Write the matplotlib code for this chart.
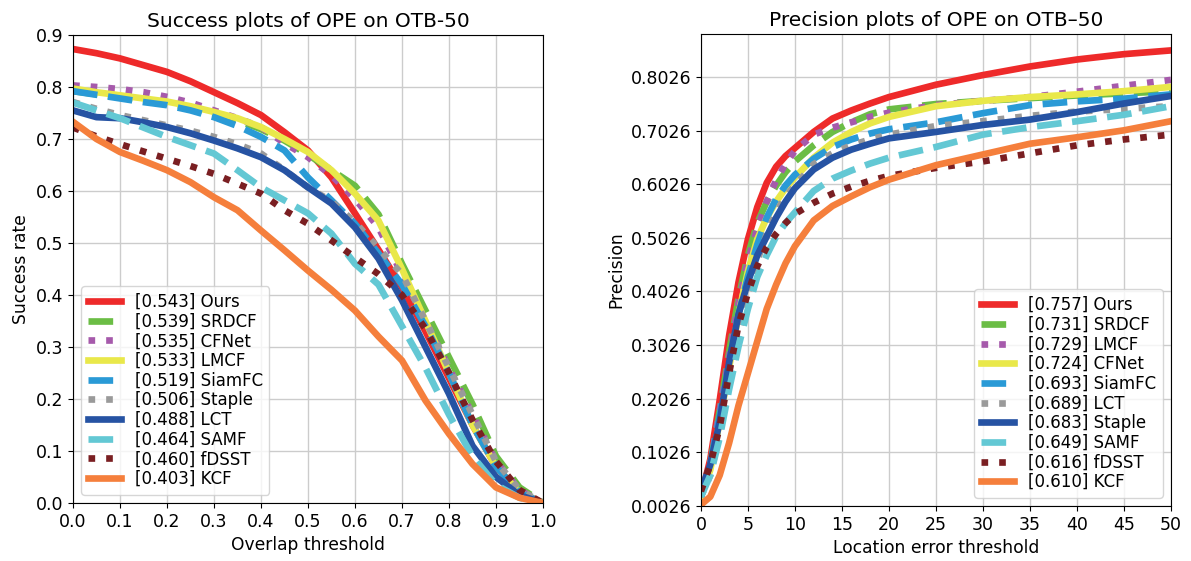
import numpy as np
import matplotlib
matplotlib.use('Agg')
import matplotlib.pyplot as plt

# Umbrales
overlap = np.arange(0, 1.0001, 0.05)
loc_err = [0, 1, 2, 3, 4, 5, 6, 7, 8, 9, 10, 12, 14, 16, 18, 20, 25, 30, 35, 40, 45, 50]

# Success plot (OTB-50)
succ_names = ['Ours', 'SRDCF', 'CFNet', 'LMCF', 'SiamFC', 'Staple', 'LCT', 'SAMF', 'fDSST', 'KCF']
succ_auc = [0.543, 0.539, 0.535, 0.533, 0.519, 0.506, 0.488, 0.464, 0.460, 0.403]
succ_ours   = [0.873, 0.865, 0.855, 0.842, 0.829, 0.811, 0.790, 0.769, 0.746, 0.713, 0.678, 0.626, 0.557, 0.487, 0.415, 0.33, 0.24, 0.15, 0.07, 0.02, 0.0]
succ_srdcf  = [0.792, 0.786, 0.781, 0.776, 0.769, 0.760, 0.749, 0.736, 0.719, 0.697, 0.670, 0.640, 0.610, 0.555, 0.46, 0.37, 0.28, 0.19, 0.09, 0.03, 0.0]
succ_cfnet  = [0.803, 0.800, 0.796, 0.790, 0.781, 0.770, 0.755, 0.740, 0.723, 0.692, 0.665, 0.630, 0.585, 0.530, 0.44, 0.35, 0.26, 0.17, 0.08, 0.025, 0.0]
succ_lmcf   = [0.797, 0.790, 0.784, 0.778, 0.772, 0.763, 0.752, 0.740, 0.723, 0.700, 0.675, 0.640, 0.595, 0.543, 0.45, 0.35, 0.25, 0.15, 0.07, 0.02, 0.0]
succ_siamfc = [0.792, 0.785, 0.778, 0.771, 0.765, 0.755, 0.742, 0.725, 0.704, 0.678, 0.626, 0.582, 0.537, 0.480, 0.42, 0.34, 0.25, 0.15, 0.07, 0.02, 0.0]
succ_staple = [0.771, 0.758, 0.746, 0.736, 0.726, 0.716, 0.704, 0.690, 0.672, 0.640, 0.607, 0.580, 0.540, 0.490, 0.44, 0.35, 0.26, 0.17, 0.08, 0.025, 0.0]
succ_lct    = [0.755, 0.742, 0.740, 0.732, 0.723, 0.711, 0.697, 0.682, 0.665, 0.640, 0.607, 0.576, 0.530, 0.470, 0.39, 0.30, 0.21, 0.11, 0.05, 0.015, 0.0]
succ_samf   = [0.770, 0.755, 0.740, 0.722, 0.704, 0.688, 0.672, 0.640, 0.607, 0.582, 0.557, 0.518, 0.460, 0.420, 0.34, 0.26, 0.17, 0.09, 0.035, 0.01, 0.0]
succ_fdsst  = [0.722, 0.705, 0.690, 0.676, 0.662, 0.648, 0.633, 0.614, 0.595, 0.563, 0.537, 0.505, 0.472, 0.440, 0.40, 0.335, 0.25, 0.16, 0.08, 0.025, 0.0]
succ_kcf    = [0.733, 0.700, 0.675, 0.658, 0.640, 0.617, 0.588, 0.563, 0.524, 0.486, 0.447, 0.410, 0.370, 0.320, 0.274, 0.197, 0.133, 0.075, 0.03, 0.01, 0.0]

# Precision plot (OTB-50)
prec_names = ['Ours', 'SRDCF', 'LMCF', 'CFNet', 'SiamFC', 'LCT', 'Staple', 'SAMF', 'fDSST', 'KCF']
prec_auc = [0.757, 0.731, 0.729, 0.724, 0.693, 0.689, 0.683, 0.649, 0.616, 0.610]
prec_ours   = [0.02, 0.09, 0.20, 0.32, 0.42, 0.50, 0.56, 0.605, 0.635, 0.655, 0.67, 0.70, 0.725, 0.740, 0.753, 0.765, 0.788, 0.806, 0.822, 0.835, 0.845, 0.852]
prec_srdcf  = [0.02, 0.08, 0.18, 0.29, 0.39, 0.47, 0.53, 0.57, 0.60, 0.625, 0.645, 0.675, 0.70, 0.718, 0.733, 0.742, 0.752, 0.758, 0.763, 0.768, 0.772, 0.776]
prec_lmcf   = [0.02, 0.08, 0.18, 0.28, 0.38, 0.46, 0.52, 0.57, 0.61, 0.64, 0.665, 0.695, 0.708, 0.718, 0.728, 0.736, 0.75, 0.758, 0.765, 0.775, 0.786, 0.797]
prec_cfnet  = [0.02, 0.07, 0.16, 0.26, 0.36, 0.44, 0.50, 0.54, 0.57, 0.595, 0.615, 0.652, 0.68, 0.70, 0.716, 0.728, 0.748, 0.758, 0.765, 0.77, 0.776, 0.784]
prec_siamfc = [0.02, 0.08, 0.17, 0.27, 0.36, 0.43, 0.49, 0.54, 0.575, 0.60, 0.62, 0.65, 0.672, 0.686, 0.697, 0.705, 0.718, 0.735, 0.75, 0.757, 0.762, 0.77]
prec_lct    = [0.02, 0.06, 0.14, 0.23, 0.32, 0.40, 0.46, 0.51, 0.55, 0.58, 0.60, 0.64, 0.66, 0.675, 0.686, 0.695, 0.711, 0.72, 0.73, 0.738, 0.743, 0.748]
prec_staple = [0.03, 0.08, 0.16, 0.27, 0.36, 0.42, 0.47, 0.505, 0.54, 0.57, 0.595, 0.63, 0.652, 0.667, 0.678, 0.688, 0.70, 0.713, 0.723, 0.737, 0.753, 0.767]
prec_samf   = [0.02, 0.06, 0.13, 0.22, 0.30, 0.37, 0.43, 0.47, 0.505, 0.53, 0.55, 0.59, 0.613, 0.628, 0.641, 0.652, 0.672, 0.695, 0.709, 0.72, 0.732, 0.748]
prec_fdsst  = [0.03, 0.08, 0.15, 0.25, 0.34, 0.40, 0.45, 0.485, 0.51, 0.53, 0.547, 0.568, 0.585, 0.598, 0.609, 0.618, 0.633, 0.645, 0.66, 0.675, 0.686, 0.695]
prec_kcf    = [0.005, 0.02, 0.06, 0.12, 0.19, 0.25, 0.31, 0.37, 0.415, 0.455, 0.487, 0.535, 0.562, 0.58, 0.597, 0.611, 0.638, 0.658, 0.678, 0.69, 0.703, 0.72]

colores = ['#ee2a2a', '#6bbd45', '#a65aab', '#e9e84a', '#2a9ad6',
           '#9a9a9a', '#2653a3', '#63c8d4', '#7a1f22', '#f57f3c']
estilos = ['-', '--', ':'] * 3 + ['-']

succ_series = [succ_ours, succ_srdcf, succ_cfnet, succ_lmcf, succ_siamfc,
               succ_staple, succ_lct, succ_samf, succ_fdsst, succ_kcf]
prec_series = [prec_ours, prec_srdcf, prec_lmcf, prec_cfnet, prec_siamfc,
               prec_lct, prec_staple, prec_samf, prec_fdsst, prec_kcf]


def graficar(ax, x, series, nombres, aucs, loc):
    for i in range(len(series)):
        ax.plot(x, series[i], color=colores[i], linestyle=estilos[i], linewidth=4.8,
                label='[%.3f] %s' % (aucs[i], nombres[i]))
    ax.grid(True, color='#cccccc', linewidth=1)
    ax.tick_params(labelsize=12.5)
    ax.legend(loc=loc, fontsize=12, labelspacing=0.1)


fig = plt.figure(figsize=(11.91, 5.61), dpi=100)

ax1 = fig.add_axes([0.0613, 0.1034, 0.3946, 0.8342])
graficar(ax1, overlap, succ_series, succ_names, succ_auc, 'lower left')
ax1.set_xlim(0, 1)
ax1.set_ylim(0, 0.9)
ax1.set_xticks(np.arange(0, 1.01, 0.1))
ax1.set_yticks(np.arange(0, 0.91, 0.1))
ax1.set_xlabel('Overlap threshold', fontsize=12.3)
ax1.set_ylabel('Success rate', fontsize=12.3)
ax1.set_title('Success plots of OPE on OTB-50', fontsize=14.5)

ax2 = fig.add_axes([0.5885, 0.0980, 0.3946, 0.8414])
graficar(ax2, loc_err, prec_series, prec_names, prec_auc, 'lower right')
ax2.set_xlim(0, 50)
ax2.set_ylim(0.0026, 0.8826)
ax2.set_xticks(np.arange(0, 51, 5))
ax2.set_yticks(np.arange(0.0026, 0.85, 0.1))
ax2.set_yticklabels(['%.4f' % v for v in np.arange(0.0026, 0.85, 0.1)])
ax2.set_xlabel('Location error threshold', fontsize=12.3)
ax2.set_ylabel('Precision', fontsize=12.3)
ax2.set_title('Precision plots of OPE on OTB–50', fontsize=14.5)

fig.savefig('out.png', dpi=100)
